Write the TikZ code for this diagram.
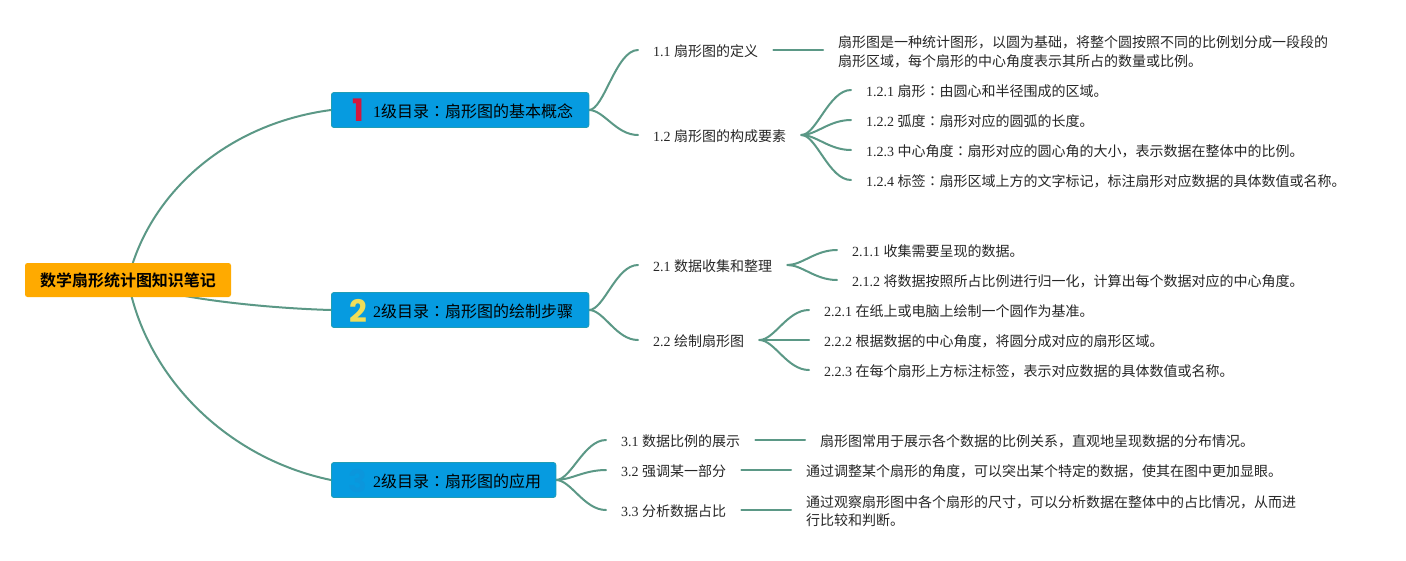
\documentclass[tikz,border=0pt]{standalone}
\usepackage{fontspec}
\setmainfont{Liberation Serif}
\newfontfamily\cjk{Noto Sans CJK SC}
\newfontfamily\cjkb{Noto Sans CJK SC}[BoldFont={Noto Sans CJK SC Bold}]
\newfontfamily\cjkt{Noto Sans CJK TC}
\newfontfamily\badgefont{Poppins}
\newcommand\zh[1]{{\cjk #1}}
\newcommand\co{{\cjkt ：}}
\definecolor{edge}{HTML}{5B9886}
\definecolor{topicblue}{HTML}{069BE0}
\definecolor{topicrim}{HTML}{1F9DB5}
\definecolor{rootorange}{HTML}{FFAA00}
\definecolor{badgered}{HTML}{D4163C}
\definecolor{badgeyellow}{HTML}{F0DE58}
\definecolor{badgeblue}{HTML}{0B96DC}
\tikzset{
  x=1pt,y=-1pt,
  conn/.style={draw=edge,line width=2pt,line cap=round},
  fan/.style={conn,to path={.. controls +(15,0) and ([xshift=-22pt]\tikztotarget) .. (\tikztotarget)}},
  rootbox/.style={fill=rootorange,rounded corners=2.5pt,minimum width=206pt,minimum height=34pt,inner sep=0pt,font=\fontsize{16}{20}\selectfont},
  topicbox/.style={fill=topicblue,draw=topicrim,line width=0.8pt,rounded corners=2.5pt,minimum height=35pt,inner sep=0pt,anchor=west},
  toptext/.style={anchor=west,inner sep=0pt,font=\fontsize{16}{20}\selectfont},
  lbl/.style={anchor=west,inner xsep=15pt,inner ysep=0pt,font=\fontsize{14}{18}\selectfont,text height=13pt,text depth=1pt,text=black!85},
  para/.style={anchor=west,inner xsep=15pt,inner ysep=0pt,font=\fontsize{14}{18.6}\selectfont,align=left,text=black!85},
  badge/.style={font=\badgefont\bfseries\fontsize{31}{31}\selectfont,inner sep=0pt},
}
\begin{document}
\begin{tikzpicture}
\useasboundingbox (0,0) rectangle (1406,560);
\coordinate (hub) at (128,280);

\node[lbl] (a1) at (638,50) {1.1 \zh{扇形图的定义}};
\node[para] (a1p) at (823,52) {\zh{扇形图是一种统计图形，以圆为基础，将整个圆按照不同的比例划分成一段段的}\\\zh{扇形区域，每个扇形的中心角度表示其所占的数量或比例。}};
\node[lbl] (a2) at (638,135) {1.2 \zh{扇形图的构成要素}};
\node[lbl] (a21) at (851,90) {1.2.1 \zh{扇形}\co\zh{由圆心和半径围成的区域。}};
\node[lbl] (a22) at (851,120) {1.2.2 \zh{弧度}\co\zh{扇形对应的圆弧的长度。}};
\node[lbl] (a23) at (851,150) {1.2.3 \zh{中心角度}\co\zh{扇形对应的圆心角的大小，表示数据在整体中的比例。}};
\node[lbl] (a24) at (851,180) {1.2.4 \zh{标签}\co\zh{扇形区域上方的文字标记，标注扇形对应数据的具体数值或名称。}};

\node[lbl] (b1) at (638,265) {2.1 \zh{数据收集和整理}};
\node[lbl] (b11) at (837,250) {2.1.1 \zh{收集需要呈现的数据。}};
\node[lbl] (b12) at (837,280) {2.1.2 \zh{将数据按照所占比例进行归一化，计算出每个数据对应的中心角度。}};
\node[lbl] (b2) at (638,340) {2.2 \zh{绘制扇形图}};
\node[lbl] (b21) at (809,310) {2.2.1 \zh{在纸上或电脑上绘制一个圆作为基准。}};
\node[lbl] (b22) at (809,340) {2.2.2 \zh{根据数据的中心角度，将圆分成对应的扇形区域。}};
\node[lbl] (b23) at (809,370) {2.2.3 \zh{在每个扇形上方标注标签，表示对应数据的具体数值或名称。}};

\node[lbl] (c1) at (606,440) {3.1 \zh{数据比例的展示}};
\node[lbl] (c1p) at (805,440) {\zh{扇形图常用于展示各个数据的比例关系，直观地呈现数据的分布情况。}};
\node[lbl] (c2) at (606,470) {3.2 \zh{强调某一部分}};
\node[lbl] (c2p) at (791,470) {\zh{通过调整某个扇形的角度，可以突出某个特定的数据，使其在图中更加显眼。}};
\node[lbl] (c3) at (606,510) {3.3 \zh{分析数据占比}};
\node[para] (c3p) at (791,511) {\zh{通过观察扇形图中各个扇形的尺寸，可以分析数据在整体中的占比情况，从而进}\\\zh{行比较和判断。}};

\coordinate (aw) at (331,110);
\coordinate (bw) at (331,310);
\coordinate (cw) at (331,480);
\coordinate (ae) at (589,110);
\coordinate (be) at (589,310);
\coordinate (ce) at (556,480);

% connectors
\draw[conn] (hub) .. controls (148,195) and (225,124) .. (aw);
\draw[conn] (hub) .. controls (160,297) and (260,308) .. (bw);
\draw[conn] (hub) .. controls (145,375) and (225,458) .. (cw);

\foreach \s/\t in {ae/a1,ae/a2,be/b1,be/b2,ce/c1,ce/c2,ce/c3}{
  \draw[fan] (\s) to (\t.west);
}
\foreach \s/\t in {a2/a21,a2/a22,a2/a23,a2/a24,b1/b11,b1/b12,b2/b21,b2/b22,b2/b23}{
  \draw[fan] (\s.east) to (\t.west);
}
\draw[conn] (a1.east) -- (a1.east -| a1p.west);
\draw[conn] (c1.east) -- (c1p.west);
\draw[conn] (c2.east) -- (c2p.west);
\draw[conn] (c3.east) -- (c3.east -| c3p.west);

\node[rootbox] (root) at (hub) {\cjkb\bfseries 数学扇形统计图知识笔记};
\node[topicbox,minimum width=257.5pt] (a) at (aw) {};
\node[topicbox,minimum width=257.5pt] (b) at (bw) {};
\node[topicbox,minimum width=224.5pt] (c) at (cw) {};
\node[badge,text=badgered] (ia) at (358,110) {1};
\node[badge,text=badgeyellow] (ib) at (358,311) {2};
\node[badge,text=badgeblue] (ic) at (358,481) {3};
\node[toptext] (ta) at (373,111) {1\zh{级目录}\co\zh{扇形图的基本概念}};
\node[toptext] (tb) at (373,311) {2\zh{级目录}\co\zh{扇形图的绘制步骤}};
\node[toptext] (tc) at (373,481) {2\zh{级目录}\co\zh{扇形图的应用}};
\end{tikzpicture}
\end{document}
